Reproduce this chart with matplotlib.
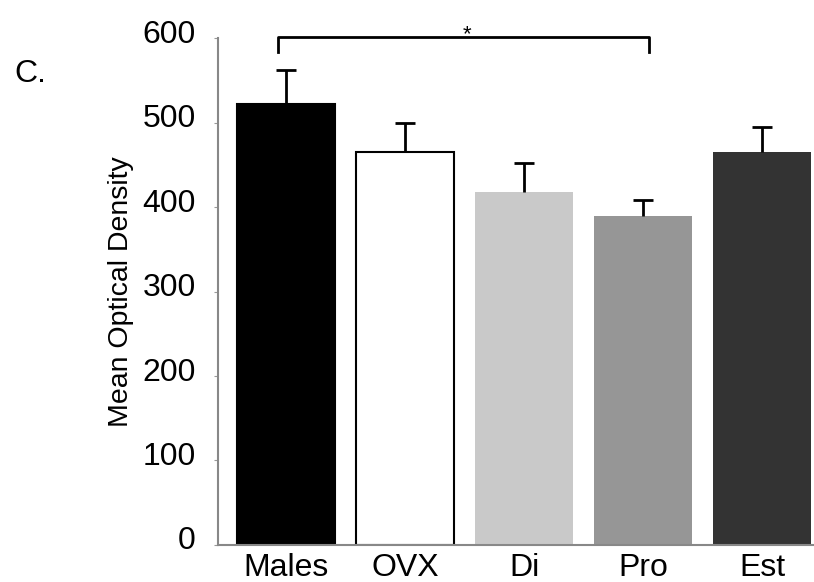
import matplotlib
matplotlib.use("Agg")
import matplotlib.pyplot as plt
from matplotlib.transforms import ScaledTranslation

plt.rcParams['font.family'] = ['Liberation Sans', 'DejaVu Sans']

categories = ["Males", "OVX", "Di", "Pro", "Est"]
means = [522, 465, 418, 389, 465]
errors = [40, 34, 34, 19, 30]
colors = ["#000000", "#ffffff", "#c9c9c9", "#969696", "#333333"]
yticks = [0, 100, 200, 300, 400, 500, 600]

fig = plt.figure(figsize=(8.14, 5.82), dpi=100)
ax = fig.add_axes([0.268, 0.0636, 0.732, 0.871])

x = list(range(len(categories)))
ax.bar(x, means, width=0.82, color=colors,
       edgecolor=["#000000", "#000000", "none", "none", "none"], linewidth=1.5, zorder=2)
# upper-only error bars
tops = [m + e for m, e in zip(means, errors)]
ax.vlines(x, means, tops, color='black', lw=2, zorder=3)
capw = 0.085
ax.hlines(tops, [xi - capw for xi in x], [xi + capw for xi in x], color='black', lw=2, zorder=3)

ax.set_xlim(-0.571, 4.437)
ax.set_ylim(0, 600)
ax.set_yticks(yticks)
ax.set_xticks(x)
ax.set_xticklabels(categories, fontsize=23)
ax.tick_params(axis='y', labelsize=23, length=3, color='#999999', pad=13)
ax.tick_params(axis='x', length=0, pad=6)
off = ScaledTranslation(0, 7 / 100, fig.dpi_scale_trans)
for lab in ax.get_yticklabels():
    lab.set_transform(lab.get_transform() + off)
for s in ['top', 'right']:
    ax.spines[s].set_visible(False)
for s in ['left', 'bottom']:
    ax.spines[s].set_color('#888888')
    ax.spines[s].set_linewidth(1.5)
ax.set_ylabel("Mean Optical Density", fontsize=20.5, labelpad=6)

# significance bracket between Males and Pro
bx0, bx1 = -0.07, 3.05
ytop, ybot = 601, 583
ax.plot([bx0, bx0, bx1, bx1], [ybot, ytop, ytop, ybot], color='black', lw=2, clip_on=False)
ax.text(1.52, 604, "*", ha='center', va='center', fontsize=16)

fig.text(0.018, 0.859, "C.", fontsize=23)

fig.savefig("out.png", dpi=100)
